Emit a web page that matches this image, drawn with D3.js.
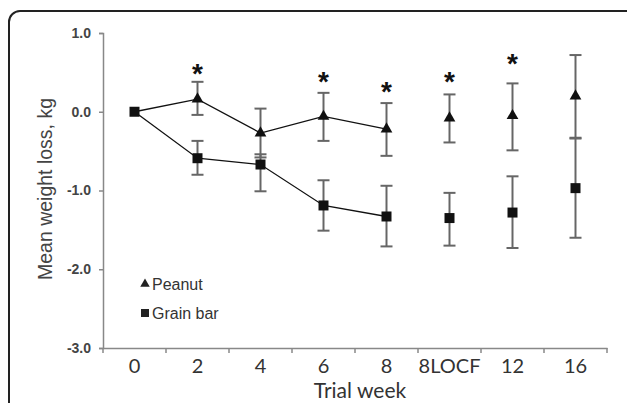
<!DOCTYPE html>
<html>
<head>
<meta charset="utf-8">
<script src="https://cdn.jsdelivr.net/npm/d3@7"></script>
<style>
  body { margin: 0; background: #fff; }
  svg { display: block; }
</style>
</head>
<body>
<svg id="chart_svg" width="627" height="403"></svg>
<script>
'use strict';

// trial week categories
const weeks = ["0", "2", "4", "6", "8", "8LOCF", "12", "16"];
const yTicks = [1, 0, -1, -2, -3];

// peanut group: mean and error bar ends
const peanutMean = [0, 0.16, -0.27, -0.06, -0.22, -0.08, -0.05, 0.2];
const peanutHi   = [0, 0.38, 0.04, 0.24, 0.11, 0.22, 0.36, 0.72];
const peanutLo   = [0, -0.04, -0.58, -0.37, -0.56, -0.39, -0.49, -0.33];

// grain bar group
const grainMean = [0, -0.59, -0.67, -1.19, -1.33, -1.35, -1.28, -0.97];
const grainHi   = [0, -0.37, -0.54, -0.87, -0.94, -1.03, -0.82, -0.34];
const grainLo   = [0, -0.8, -1.01, -1.51, -1.71, -1.7, -1.73, -1.6];

// weeks joined by a line, and where the significance stars sit
const linkedWeeks = ["0", "2", "4", "6", "8"];
const starWeeks = ["2", "6", "8", "8LOCF", "12"];
const starLevels = [0.57, 0.47, 0.34, 0.47, 0.7];

const svg = d3.select("#chart_svg");

// frame round the figure
svg.append("rect")
	.attr("x", 9).attr("y", 11)
	.attr("width", 640).attr("height", 430)
	.attr("rx", 11)
	.attr("fill", "none")
	.attr("stroke", "#222")
	.attr("stroke-width", 2);

const x = d3.scaleBand().domain(weeks).range([103, 607]).padding(0),
	y = d3.scaleLinear().domain([-3, 1]).range([348, 33]);

const cx = (w) => x(w) + x.bandwidth() / 2;

// y axis (plain hyphen for the minus sign, as in the original)
const yAxis = svg.append("g")
	.attr("transform", "translate(103,0)")
	.call(d3.axisLeft(y).tickValues(yTicks)
		.tickFormat((d) => d.toFixed(1))
		.tickSize(4).tickPadding(8));
yAxis.select(".domain").attr("stroke", "#888").attr("stroke-width", 1.5);
yAxis.selectAll(".tick line").attr("stroke", "#888").attr("stroke-width", 1.5);
yAxis.selectAll(".tick text")
	.attr("fill", "#444")
	.style("font", "bold 14px 'Liberation Sans', Arial, sans-serif");

// x axis: ticks on the category boundaries
const xAxis = svg.append("g")
	.attr("transform", "translate(0,348)")
	.call(d3.axisBottom(x).tickSize(0).tickPadding(11));
xAxis.select(".domain").attr("stroke", "#888").attr("stroke-width", 1.5);
xAxis.selectAll(".tick text")
	.attr("fill", "#333")
	.style("font", "20px Lato, 'Open Sans', sans-serif");
xAxis.selectAll(".bound")
	.data(weeks.concat(["end"]))
	.enter().append("line")
		.attr("class", "bound")
		.attr("x1", (d, i) => 103 + i * x.bandwidth())
		.attr("x2", (d, i) => 103 + i * x.bandwidth())
		.attr("y1", 0).attr("y2", 5)
		.attr("stroke", "#888").attr("stroke-width", 1.5);

svg.append("text")
	.attr("x", 360).attr("y", 398)
	.attr("text-anchor", "middle")
	.attr("fill", "#333")
	.style("font", "21px Lato, 'Open Sans', sans-serif")
	.text("Trial week");

svg.append("text")
	.attr("transform", "translate(52,189) rotate(-90)")
	.attr("text-anchor", "middle")
	.attr("fill", "#444")
	.style("font", "19.5px 'Liberation Sans', Arial, sans-serif")
	.text("Mean weight loss, kg");

const groups = [
	{id: "Peanut", mean: peanutMean, hi: peanutHi, lo: peanutLo, shape: d3.symbolTriangle, size: 60},
	{id: "Grain bar", mean: grainMean, hi: grainHi, lo: grainLo, shape: d3.symbolSquare, size: 100}
];

const line = d3.line()
	.x((d) => cx(d.week))
	.y((d) => y(d.v));

groups.forEach((g, gi) => {
	const pts = weeks.map((w, i) => ({week: w, v: g.mean[i], hi: g.hi[i], lo: g.lo[i]}));
	const bars = pts.filter((d) => d.hi !== d.lo);

	// error bars
	const eb = svg.append("g").attr("stroke", "#666").attr("stroke-width", 2);
	eb.selectAll(".stem").data(bars).enter().append("line")
		.attr("x1", (d) => cx(d.week)).attr("x2", (d) => cx(d.week))
		.attr("y1", (d) => y(d.hi)).attr("y2", (d) => y(d.lo));
	eb.selectAll(".capHi").data(bars).enter().append("line")
		.attr("x1", (d) => cx(d.week) - 6).attr("x2", (d) => cx(d.week) + 6)
		.attr("y1", (d) => y(d.hi)).attr("y2", (d) => y(d.hi));
	eb.selectAll(".capLo").data(bars).enter().append("line")
		.attr("x1", (d) => cx(d.week) - 6).attr("x2", (d) => cx(d.week) + 6)
		.attr("y1", (d) => y(d.lo)).attr("y2", (d) => y(d.lo));

	svg.append("path")
		.attr("d", line(pts.filter((d) => linkedWeeks.includes(d.week))))
		.attr("fill", "none")
		.attr("stroke", "#111")
		.attr("stroke-width", 1.3);

	// week 0 is shared: the square sits on top of the triangle there
	svg.append("g").selectAll("path")
		.data(gi === 0 ? pts.filter((d) => d.week !== "0") : pts)
		.enter().append("path")
			.attr("transform", (d) => "translate(" + cx(d.week) + "," + y(d.v) + ")")
			.attr("d", d3.symbol(g.shape, g.size))
			.attr("fill", "#111");
});

// significance stars
svg.selectAll(".star")
	.data(starWeeks)
	.enter().append("text")
		.attr("class", "star")
		.attr("x", (d) => cx(d))
		.attr("y", (d, i) => y(starLevels[i]) + 16)
		.attr("text-anchor", "middle")
		.attr("fill", "#111")
		.style("font", "bold 28px 'Liberation Sans', Arial, sans-serif")
		.text("*");

// legend
const legend = svg.append("g").attr("transform", "translate(145,284)");
groups.forEach((g, i) => {
	legend.append("path")
		.attr("transform", "translate(0," + (i * 29) + ")")
		.attr("d", d3.symbol(g.shape, g.size * 0.65))
		.attr("fill", "#222");
	legend.append("text")
		.attr("x", 7).attr("y", i * 29 + 6)
		.attr("fill", "#333")
		.style("font", "16px 'Liberation Sans', Arial, sans-serif")
		.text(g.id);
});
</script>
</body>
</html>
